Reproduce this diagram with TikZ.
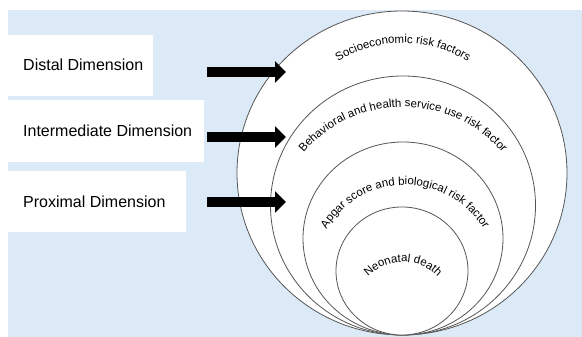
\documentclass[tikz,border=0pt]{standalone}
\usepackage{fontspec}
\setmainfont{Liberation Sans}
\usetikzlibrary{arrows.meta,decorations.text,shapes.geometric}
\definecolor{bgblue}{RGB}{219,234,246}
\definecolor{ringline}{RGB}{85,85,85}
\newcommand\curvefont{\fontsize{11.5pt}{13pt}\selectfont}
\begin{document}
\begin{tikzpicture}[x=1pt,y=1pt,
  dimbox/.style={rectangle, fill=white, inner sep=0pt},
  dimtext/.style={anchor=west, inner sep=0pt, font=\fontsize{16pt}{19pt}\selectfont},
  ring/.style={ellipse, draw=ringline, line width=0.8pt, fill=white, inner sep=0pt},
  bigarrow/.style={line width=10pt, -{Triangle[length=11pt,width=21pt]}},
  curvetext/.style={decorate, decoration={text along path, text align=center,
     text format delimiters={|}{|}}}
]
\useasboundingbox (0,0) rectangle (582,337);
\fill[bgblue] (8,0) rectangle (582,327);

% dimension boxes
\node[dimbox, minimum width=145pt, minimum height=61pt] (distalbox) at (80.5,271.5) {};
\node[dimbox, minimum width=196pt, minimum height=62pt] (interbox) at (106,206) {};
\node[dimbox, minimum width=178pt, minimum height=61pt] (proxbox) at (97,135.5) {};
\node[dimtext] (distal) at (23,272) {Distal Dimension};
\node[dimtext] (inter) at (23,206) {Intermediate Dimension};
\node[dimtext] (prox) at (23,135.5) {Proximal Dimension};

% nested rings
\node[ring, minimum width=330pt, minimum height=324pt] (socio) at (402,164) {};
\node[ring, minimum width=265pt, minimum height=259pt] (behav) at (403,131.5) {};
\node[ring, minimum width=200pt, minimum height=193pt] (apgar) at (403,98.5) {};
\node[ring, minimum width=132pt, minimum height=128pt] (neo) at (402,66) {};

% arrows
\coordinate (a1s) at (207,265); \coordinate (a1e) at (286,265);
\coordinate (a2s) at (207,200); \coordinate (a2e) at (286,200);
\coordinate (a3s) at (207,135); \coordinate (a3e) at (286,135);
\draw[bigarrow] (a1s) -- (a1e);
\draw[bigarrow] (a2s) -- (a2e);
\draw[bigarrow] (a3s) -- (a3e);

% curved labels
\path[curvetext, decoration={text={|\curvefont|Socioeconomic risk factors}}]
  (403,173) ++(170:121) arc[start angle=170, end angle=10, radius=121];
\path[curvetext, decoration={text={|\curvefont|Behavioral and health service use risk factor}}]
  (403,99) ++(170:131) arc[start angle=170, end angle=10, radius=131];
\path[curvetext, decoration={text={|\curvefont|Apgar score and biological risk factor}}]
  (405,60) ++(170:92) arc[start angle=170, end angle=10, radius=92];
\path[curvetext, decoration={text={|\curvefont|Neonatal death}}]
  (403,27) ++(170:48) arc[start angle=170, end angle=10, radius=48];
\end{tikzpicture}
\end{document}
